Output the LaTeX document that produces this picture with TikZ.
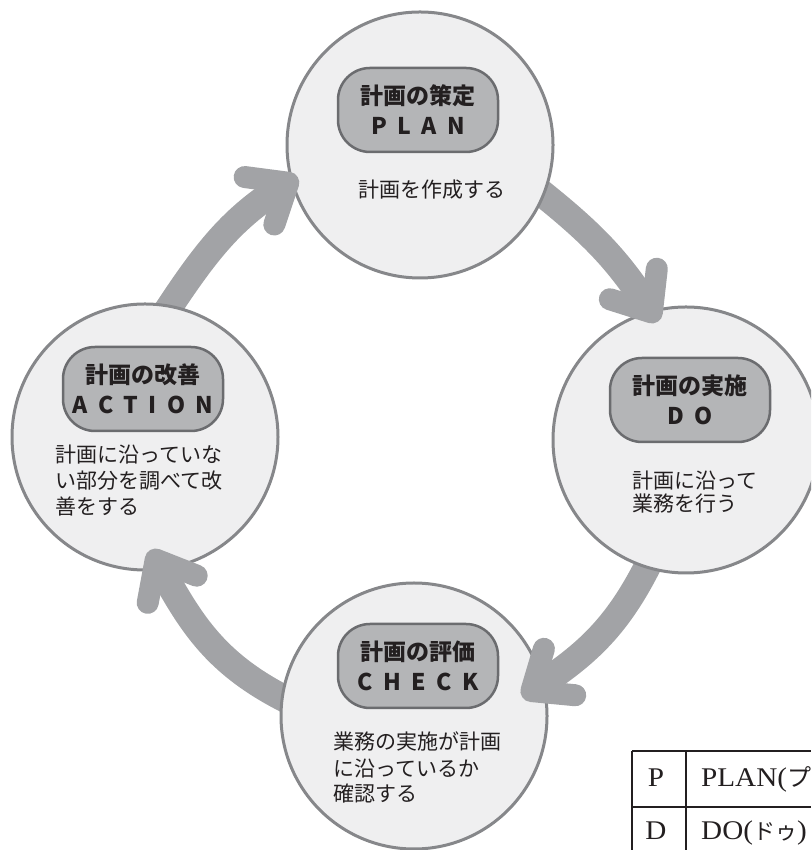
\documentclass[tikz,border=0pt]{standalone}
\usepackage{fontspec}
\setmainfont{Noto Sans CJK JP}
\newfontfamily\jpfont{Noto Sans CJK JP}
\newfontfamily\stagefont{Noto Sans CJK JP}[LetterSpace=45]
\newfontfamily\tablefont{Liberation Serif}[FakeStretch=1.08]
\usetikzlibrary{calc}
\pgfdeclarelayer{background}
\pgfsetlayers{background,main}

\newlength{\du}
\setlength{\du}{1pt}

\definecolor{circlefill}{rgb}{0.937, 0.937, 0.941}
\definecolor{circleline}{rgb}{0.525, 0.529, 0.541}
\definecolor{boxfill}{rgb}{0.706, 0.710, 0.718}
\definecolor{boxline}{rgb}{0.420, 0.424, 0.435}
\definecolor{arrowgray}{rgb}{0.635, 0.639, 0.651}
\definecolor{inkgray}{rgb}{0.137, 0.122, 0.125}

\begin{document}
\begin{tikzpicture}[x=\du,y=\du,
  stagecircle/.style={circle, draw=circleline, fill=circlefill, line width=3\du, minimum size=266\du, inner sep=0pt},
  stagebox/.style={rectangle, rounded corners=32\du, draw=boxline, fill=boxfill, line width=2.5\du,
    minimum width=160\du, minimum height=84\du, inner sep=0pt, align=center,
    font=\bfseries\fontsize{23}{30}\selectfont, text=inkgray},
  stagetext/.style={anchor=base west, align=left, inner sep=0pt, font=\fontsize{21}{26}\selectfont, text=inkgray},
  arrowshaft/.style={draw=arrowgray, line width=27\du},
  arrowhead/.style={draw=arrowgray, line width=22\du, line cap=round, line join=round},
  tablerule/.style={draw=inkgray, line width=2\du},
  tabletext/.style={inner sep=0pt, text=inkgray, font=\tablefont\fontsize{27}{30}\selectfont}]
\useasboundingbox (0,0) rectangle (811,850);
\clip (0,0) rectangle (811,850);

% the four stages
\node[stagecircle] (plan) at (420,705) {};
\node[stagecircle] (do) at (686,410) {};
\node[stagecircle] (check) at (414,134) {};
\node[stagecircle] (act) at (145,413) {};

% arrow tips
\coordinate (plantip) at ($(plan)+(196:137)$);
\coordinate (dotip) at ($(do)+(105:132)$);
\coordinate (checktip) at ($(check)+(12:120)$);
\coordinate (acttip) at ($(act)+(-85:123)$);

% shafts behind the circles
\begin{pgfonlayer}{background}
\draw[arrowshaft, shorten <=-20\du, shorten >=4\du] (act.79) to[out=57,in=212] (plantip);
\draw[arrowshaft, shorten <=-20\du, shorten >=4\du] (plan.-22) to[out=-38,in=123] (dotip);
\draw[arrowshaft, shorten <=-20\du, shorten >=4\du] (do.253) to[out=245,in=34] (checktip);
\draw[arrowshaft, shorten <=-20\du, shorten >=4\du] (check.172) to[out=155,in=299] (acttip);
\end{pgfonlayer}

% shaft ends over the target circles
\begin{scope}
\clip (plan) circle[radius=136\du];
\draw[arrowshaft, shorten >=4\du] (act.79) to[out=57,in=212] (plantip);
\end{scope}
\begin{scope}
\clip (do) circle[radius=136\du];
\draw[arrowshaft, shorten >=4\du] (plan.-22) to[out=-38,in=123] (dotip);
\end{scope}
\begin{scope}
\clip (check) circle[radius=136\du];
\draw[arrowshaft, shorten >=4\du] (do.253) to[out=245,in=34] (checktip);
\end{scope}
\begin{scope}
\clip (act) circle[radius=136\du];
\draw[arrowshaft, shorten >=4\du] (check.172) to[out=155,in=299] (acttip);
\end{scope}

% heads
\draw[arrowhead, shift={(plantip)}, rotate=32] (-34,28) -- (0,0) -- (-34,-28);
\draw[arrowhead, shift={(dotip)}, rotate=-57] (-34,28) -- (0,0) -- (-34,-28);
\draw[arrowhead, shift={(checktip)}, rotate=214] (-34,28) -- (0,0) -- (-34,-28);
\draw[arrowhead, shift={(acttip)}, rotate=119] (-34,28) -- (0,0) -- (-34,-28);

% titles
\node[stagebox] (planbox) at (418,740) {計画の策定\\{\stagefont PLAN}};
\node[stagebox] (dobox) at (690,450) {計画の実施\\{\stagefont DO}};
\node[stagebox] (checkbox) at (418,184) {計画の評価\\{\stagefont CHECK}};
\node[stagebox] (actbox) at (143,461) {計画の改善\\{\stagefont ACTION}};

% texts (base = last line)
\node[stagetext] (plantext) at (358,652) {計画を作成する};
\node[stagetext, font=\fontsize{21}{23}\selectfont] (dotext) at (632,338) {計画に沿って\\業務を行う};
\node[stagetext] (checktext) at (333,48) {業務の実施が計画\\に沿っているか\\確認する};
\node[stagetext] (acttext) at (55,335) {計画に沿っていな\\い部分を調べて改\\善をする};

% table
\draw[tablerule] (632,99) -- (811,99);
\draw[tablerule] (632,43) -- (811,43);
\draw[tablerule] (632,0) -- (632,99);
\draw[tablerule] (686,0) -- (686,99);
\node[tabletext, anchor=base] (tabp) at (656,63) {P};
\node[tabletext, anchor=base west] (tabplan) at (701,63) {PLAN({\jpfont\fontsize{24}{30}\selectfont プ}};
\node[tabletext, anchor=base] (tabd) at (656,10) {D};
\node[tabletext, anchor=base west] (tabdo) at (701,10) {DO({\jpfont\fontsize{22}{30}\selectfont ドゥ})};
\end{tikzpicture}
\end{document}
